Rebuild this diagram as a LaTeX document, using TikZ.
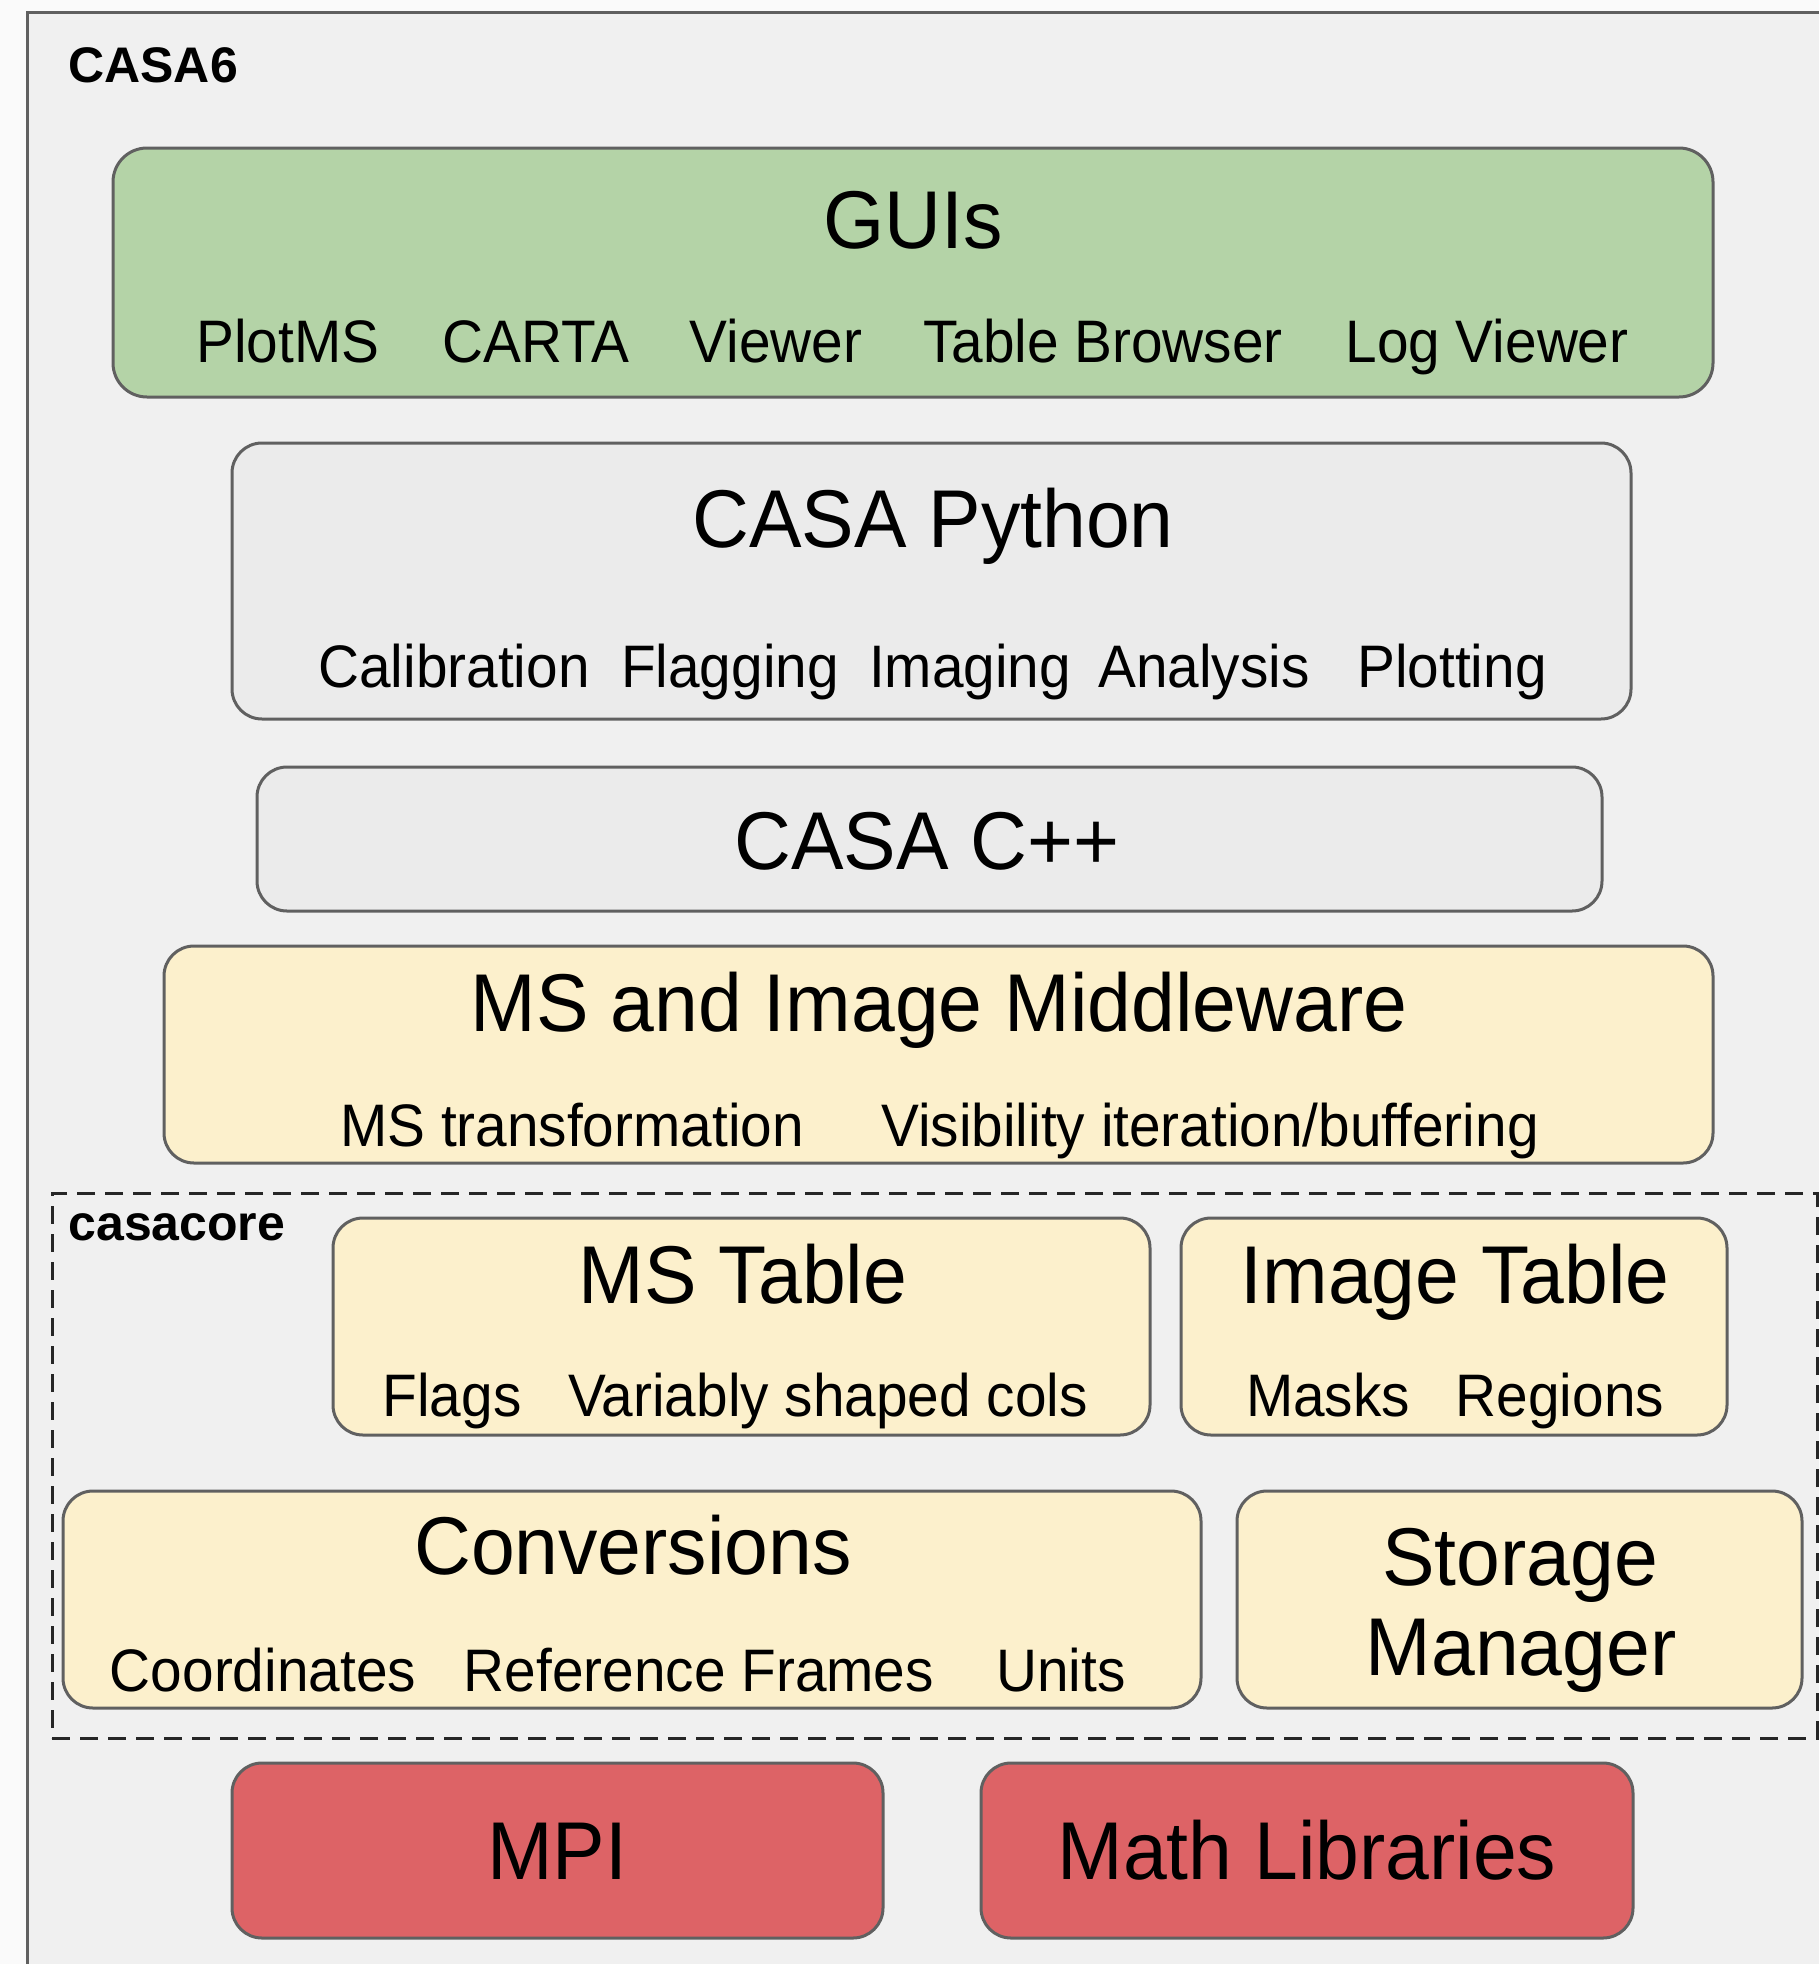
\documentclass[tikz,border=0pt]{standalone}
\usepackage{fontspec}
\setmainfont{Liberation Sans}
\newfontfamily\tf{Liberation Sans}[FakeStretch=0.96]
\newfontfamily\nf{Liberation Sans}[FakeStretch=0.946]
\definecolor{bgc}{HTML}{F0F0F0}
\definecolor{outc}{HTML}{FAFAFA}
\definecolor{bordc}{HTML}{606060}
\definecolor{greenc}{HTML}{B4D3A7}
\definecolor{grayc}{HTML}{EBEBEB}
\definecolor{yellc}{HTML}{FCF0CC}
\definecolor{redc}{HTML}{DD6366}
\begin{document}
\begin{tikzpicture}[x=0.5pt,y=-0.5pt,
  box/.style={draw=bordc, line width=1.5pt, rounded corners=15pt, anchor=north west, outer sep=0pt, inner sep=0pt},
  ttl/.style={anchor=base, inner sep=0pt, font=\tf\fontsize{41pt}{45pt}\selectfont},
  sub/.style={anchor=base, inner sep=0pt, font=\nf\fontsize{30pt}{33pt}\selectfont},
  lbl/.style={anchor=base west, inner sep=0pt, font=\bfseries\fontsize{25pt}{27pt}\selectfont}]
\fill[outc] (0,0) rectangle (1819,1964);
\useasboundingbox (0,0) rectangle (1819,1964);
\clip (0,0) rectangle (1819,1964);
% outer CASA6 frame
\node (casa6) [draw=bordc, fill=bgc, line width=1.5pt, anchor=north west, outer sep=0pt, inner sep=0pt, minimum width=920pt, minimum height=1000pt] at (27,13) {};
\node (casa6lbl) [lbl] at (68,83) {CASA6};
% GUIs
\node (gui) [box, fill=greenc, rounded corners=17pt, minimum width=800pt, minimum height=124.5pt] at (113,148) {};
\node (guit) [ttl] at (913,248) {GUIs};
\node (g1) [sub] at (288,362) {PlotMS};
\node (g2) [sub] at (536,362) {CARTA};
\node (g3) [sub] at (776,362) {Viewer};
\node (g4) [sub] at (1103,362) {Table Browser};
\node (g5) [sub] at (1487,362) {Log Viewer};
% CASA Python
\node (py) [box, fill=grayc, minimum width=699.5pt, minimum height=138pt] at (232,443) {};
\node (pyt) [ttl] at (933,547) {CASA Python};
\node (p1) [sub] at (454,687) {Calibration};
\node (p2) [sub] at (730,687) {Flagging};
\node (p3) [sub] at (970,687) {Imaging};
\node (p4) [sub] at (1204,687) {Analysis};
\node (p5) [sub] at (1452,687) {Plotting};
% CASA C++
\node (cpp) [box, fill=grayc, minimum width=672.5pt, minimum height=72pt] at (257,767) {};
\node (cppt) [ttl] at (927,869) {CASA C++};
% Middleware
\node (mw) [box, fill=yellc, minimum width=774.5pt, minimum height=108.5pt] at (164,946) {};
\node (mwt) [ttl] at (939,1031) {MS and Image Middleware};
\node (m1) [sub] at (572,1146) {MS transformation};
\node (m2) [sub] at (1210,1146) {Visibility iteration/buffering};
% casacore dashed group
\node (casacore) [draw=black!85, dash pattern=on 9pt off 5pt, line width=1.5pt, anchor=north west, outer sep=0pt, inner sep=0pt, minimum width=882.5pt, minimum height=272.5pt] at (52,1193) {};
\node (casacorelbl) [lbl] at (68,1240) {casacore};
% MS Table
\node (mst) [box, fill=yellc, minimum width=408.5pt, minimum height=108.5pt] at (333,1218) {};
\node (mstt) [ttl] at (743,1303) {MS Table};
\node (ms1) [sub] at (452,1416) {Flags};
\node (ms2) [sub] at (828,1416) {Variably shaped cols};
% Image Table
\node (imt) [box, fill=yellc, minimum width=273pt, minimum height=108.5pt] at (1181,1218) {};
\node (imtt) [ttl] at (1455,1303) {Image Table};
\node (im1) [sub] at (1328,1416) {Masks};
\node (im2) [sub] at (1560,1416) {Regions};
% Conversions
\node (conv) [box, fill=yellc, minimum width=569pt, minimum height=108.5pt] at (63,1491) {};
\node (convt) [ttl] at (633,1574) {Conversions};
\node (c1) [sub] at (263,1691) {Coordinates};
\node (c2) [sub] at (699,1691) {Reference Frames};
\node (c3) [sub] at (1061,1691) {Units};
% Storage Manager
\node (stor) [box, fill=yellc, minimum width=282.5pt, minimum height=108.5pt] at (1237,1491) {};
\node (stort1) [ttl] at (1520,1585) {Storage};
\node (stort2) [ttl] at (1521,1675) {Manager};
% MPI and Math
\node (mpi) [box, fill=redc, minimum width=325.5pt, minimum height=87.5pt] at (232,1763) {};
\node (mpit) [ttl] at (557,1879) {MPI};
\node (math) [box, fill=redc, minimum width=326pt, minimum height=87.5pt] at (981,1763) {};
\node (matht) [ttl] at (1307,1879) {Math Libraries};
\end{tikzpicture}
\end{document}
